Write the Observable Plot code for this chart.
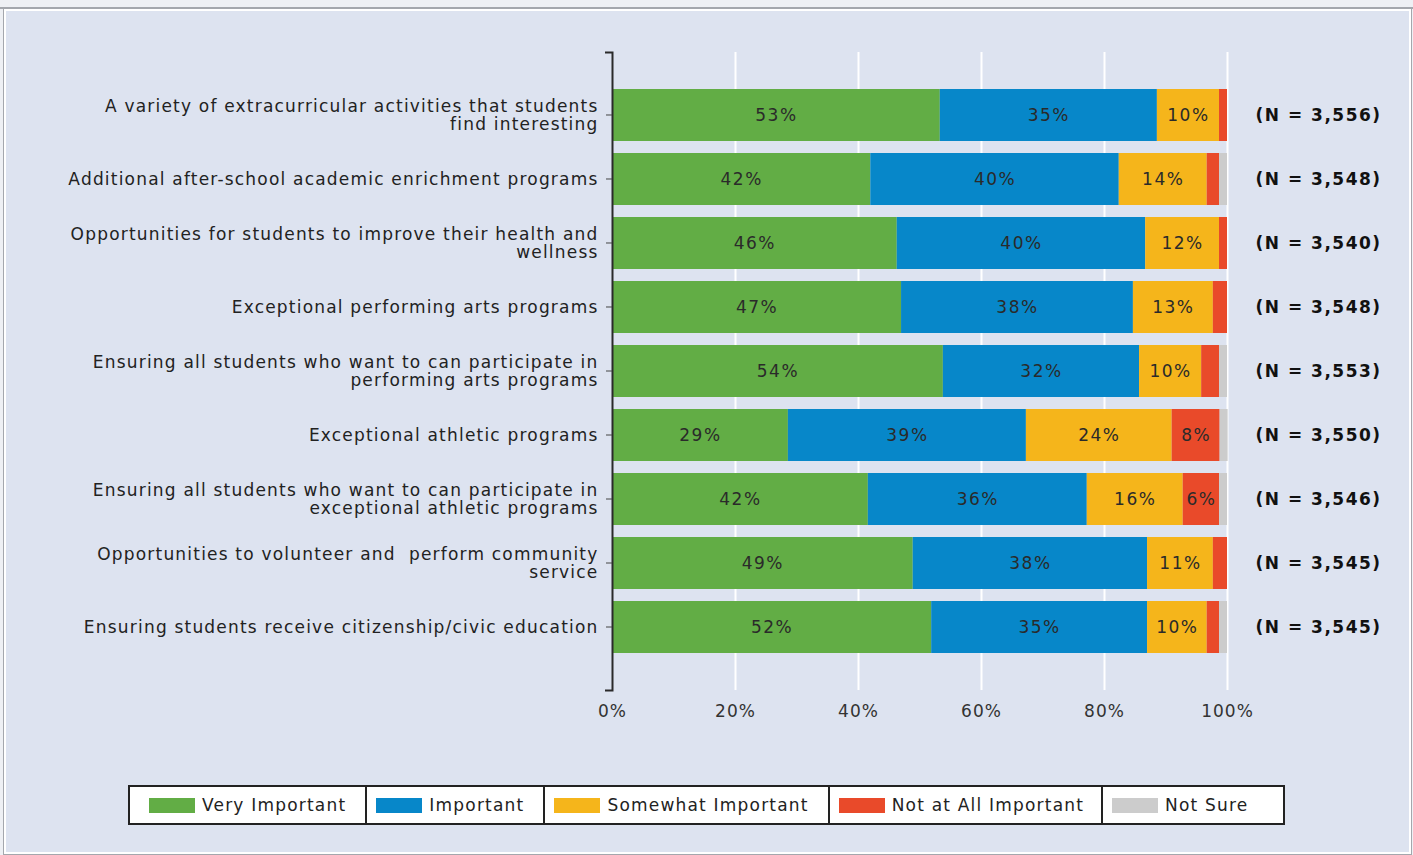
<!DOCTYPE html>
<html><head><meta charset="utf-8">
<script src="https://cdn.jsdelivr.net/npm/d3@7"></script>
<script src="https://cdn.jsdelivr.net/npm/@observablehq/plot@0.6"></script>
<style>
html,body{margin:0;padding:0;background:#eef0f4;width:1413px;height:855px;overflow:hidden;font-family:"DejaVu Sans",sans-serif;}
#topline{position:absolute;left:0;top:7px;width:1413px;height:2px;background:#a4a7ad;}
#panel{position:absolute;left:4px;top:9px;width:1403px;height:841px;border:2px solid #fff;box-shadow:0 0 0 1px #a4a7ad;background:#dde3f0;}
#chart{position:absolute;left:0;top:0;}
#legend{position:absolute;left:128px;top:785px;height:36px;display:flex;border:2px solid #222;background:#fff;font-size:17px;letter-spacing:1.2px;color:#222;}
#legend .cell{display:flex;align-items:center;border-right:2px solid #222;padding:0 19px 0 9px;}
#legend .cell:first-child{padding-left:19px;}
#legend .cell:nth-child(4){padding-right:17px;}
#legend .cell:last-child{border-right:none;padding-right:34px;}
#legend .sw{width:46px;height:15px;margin-right:7px;}
</style></head>
<body>
<div id="topline"></div>
<div id="panel"></div>
<div id="chart"></div>
<div id="legend"></div>
<script>
const items = [
  "A variety of extracurricular activities that students\nfind interesting",
  "Additional after-school academic enrichment programs",
  "Opportunities for students to improve their health and\nwellness",
  "Exceptional performing arts programs",
  "Ensuring all students who want to can participate in\nperforming arts programs",
  "Exceptional athletic programs",
  "Ensuring all students who want to can participate in\nexceptional athletic programs",
  "Opportunities to volunteer and  perform community\nservice",
  "Ensuring students receive citizenship/civic education"
];
const nLabels = ["(N = 3,556)","(N = 3,548)","(N = 3,540)","(N = 3,548)","(N = 3,553)","(N = 3,550)","(N = 3,546)","(N = 3,545)","(N = 3,545)"];
const categories = ["Very Important","Important","Somewhat Important","Not at All Important","Not Sure"];
const colors = ["#62ad45","#0787c9","#f5b51b","#e94a2a","#cccccc"];
const veryImportant = [53.3, 42.0, 46.3, 47.0, 53.8, 28.6, 41.6, 48.9, 51.9];
const important     = [35.3, 40.4, 40.4, 37.7, 31.9, 38.7, 35.6, 38.1, 35.1];
const somewhat      = [10.1, 14.3, 12.0, 13.0, 10.1, 23.7, 15.6, 10.7,  9.7];
const notAtAll      = [ 1.3,  2.0,  1.3,  2.3,  2.9,  7.8,  5.9,  2.3,  2.0];
const notSure       = [ 0.0,  1.3,  0.0,  0.0,  1.3,  1.3,  1.3,  0.0,  1.3];
const xTicks = [0, 20, 40, 60, 80, 100];

const series = [veryImportant, important, somewhat, notAtAll, notSure];
const data = [];
items.forEach((it, i) => series.forEach((arr, j) => data.push({item: it, cat: categories[j], value: arr[i]})));

const W = 1413, H = 740, mT = 52, mB = 50, mL = 612, mR = 186;
const padIn = 0.1875, padOut = 0.578;

function yAxisLine(index, scales, values, dimensions) {
  const band = d3.scaleBand(items, [dimensions.marginTop, dimensions.height - dimensions.marginBottom])
    .paddingInner(padIn).paddingOuter(padOut);
  const g = d3.create("svg:g").attr("transform", `translate(${dimensions.marginLeft},0)`);
  g.call(d3.axisLeft(band).tickSizeInner(6).tickSizeOuter(7).tickFormat(""));
  g.select("path.domain").attr("stroke", "#2a2a2a").attr("stroke-width", 2);
  g.selectAll(".tick line").attr("stroke", "#444").attr("stroke-width", 1);
  return g.node();
}

const chart = Plot.plot({
  width: W, height: H,
  marginTop: mT, marginBottom: mB, marginLeft: mL, marginRight: mR,
  style: {background: "transparent", fontFamily: "DejaVu Sans", fontSize: "17px", color: "#222", overflow: "visible"},
  x: {domain: [0, 100]},
  y: {domain: items, paddingInner: padIn, paddingOuter: padOut},
  color: {domain: categories, range: colors},
  marks: [
    Plot.ruleX(xTicks.filter(d => d > 0), {stroke: "#ffffff", strokeWidth: 2}),
    Plot.barX(data, {y: "item", x: "value", fill: "cat", order: categories}),
    Plot.text(data, Plot.stackX({y: "item", x: "value", z: "cat", order: categories,
      text: d => d.value >= 5 ? Math.round(d.value) + "%" : "", fill: "#2a2a2a", fontSize: 17, className: "seglabel"})),
    Plot.text(items, {y: d => d, text: (d, i) => nLabels[i], frameAnchor: "right", textAnchor: "start", dx: 28, fontWeight: "bold", fontSize: 17, fill: "#111", className: "nlabel"}),
    Plot.axisX({ticks: xTicks, tickFormat: d => d + "%", tickSize: 0, tickPadding: 14, label: null, fill: "#333"}),
    Plot.axisY({tickSize: 0, tickPadding: 14, label: null, lineHeight: 1.06, fill: "#222"}),
    yAxisLine
  ]
});
document.getElementById("chart").appendChild(chart);
const svg = d3.select(chart);
svg.selectAll('[aria-label="y-axis tick label"] text').style("letter-spacing", "1.2px");
svg.selectAll('[aria-label="x-axis tick label"] text').style("letter-spacing", "1px");
svg.selectAll('.seglabel text, g.seglabel text').style("letter-spacing", "1.5px");
svg.selectAll('.nlabel text, g.nlabel text').style("letter-spacing", "1.5px");

const legend = document.getElementById("legend");
categories.forEach((c, i) => {
  const cell = document.createElement("div");
  cell.className = "cell";
  cell.innerHTML = `<span class="sw" style="background:${colors[i]}"></span><span>${c}</span>`;
  legend.appendChild(cell);
});
</script>
</body></html>
